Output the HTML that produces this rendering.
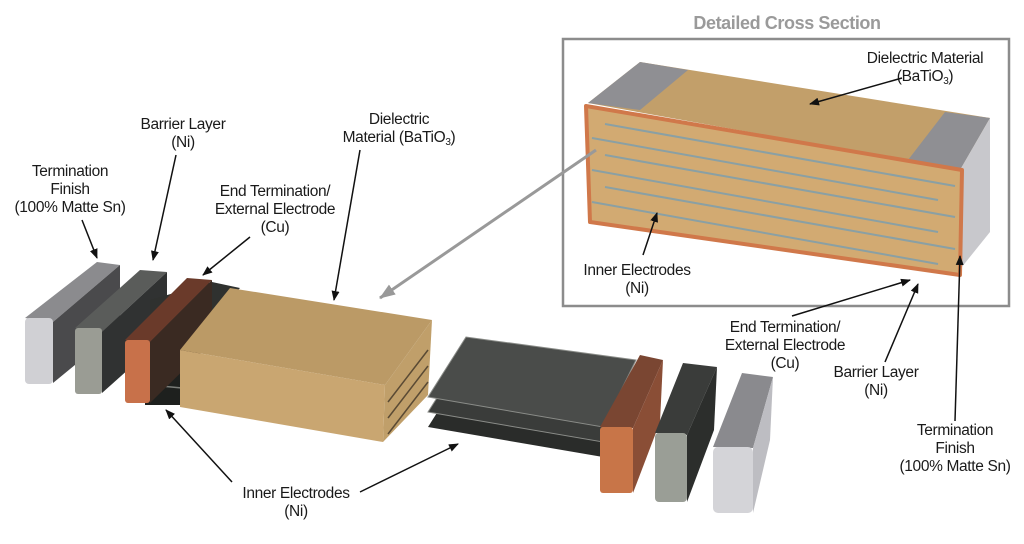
<!DOCTYPE html>
<html><head><meta charset="utf-8"><style>
html,body{margin:0;padding:0;background:#fff;}
svg{display:block}
text{font-family:"Liberation Sans Narrow","Liberation Sans",sans-serif;font-size:15.5px;fill:#1a1a1a;text-anchor:middle;letter-spacing:-0.35px}
</style></head><body>
<svg width="1024" height="544" viewBox="0 0 1024 544" xmlns="http://www.w3.org/2000/svg">
<defs>
<marker id="ah" markerWidth="10" markerHeight="8" refX="9" refY="4" orient="auto" markerUnits="userSpaceOnUse"><path d="M0,0 L10,4 L0,8 z" fill="#111"/></marker>
<marker id="ahg" markerWidth="16" markerHeight="12" refX="15" refY="6" orient="auto" markerUnits="userSpaceOnUse"><path d="M0,0 L16,6 L0,12 z" fill="#999"/></marker>
</defs>

<text x="787" y="29" style="font-weight:bold;font-size:18px;fill:#9a9a9a;letter-spacing:-0.4px">Detailed Cross Section</text>
<rect x="563" y="39" width="446" height="267" fill="#fff" stroke="#8c8c8c" stroke-width="2.5"/>
<polygon points="588,103 640,62 990,118 960,170" fill="#c29f6a"/>
<polygon points="588,103 640,62 688,70 640,110" fill="#8f8f93"/>
<polygon points="908,160 945,112 990,118 960,170" fill="#8f8f93"/>
<polygon points="960,170 990,118 990,232 957,273" fill="#c8c8cc"/>
<polygon points="586,106 962,170 960,275 590,222" fill="#d2aa72" stroke="#d0784a" stroke-width="4" stroke-linejoin="round"/>
<g stroke="#8aa0a4" stroke-width="2">
<line x1="605" y1="124" x2="955" y2="186"/>
<line x1="592" y1="138" x2="938" y2="200"/>
<line x1="605" y1="155" x2="955" y2="217"/>
<line x1="592" y1="170" x2="938" y2="232"/>
<line x1="605" y1="187" x2="955" y2="249"/>
<line x1="592" y1="202" x2="938" y2="264"/>
</g>
<text x="925" y="63">Dielectric Material</text>
<text x="925" y="81">(BaTiO<tspan font-size="10" dy="3">3</tspan><tspan dy="-3">)</tspan></text>
<line x1="902" y1="78" x2="810" y2="104" stroke="#111" stroke-width="1.5" marker-end="url(#ah)"/>
<text x="637" y="275">Inner Electrodes</text>
<text x="637" y="293">(Ni)</text>
<line x1="643" y1="255" x2="657" y2="213" stroke="#111" stroke-width="1.5" marker-end="url(#ah)"/>
<text x="785" y="332">End Termination/</text>
<text x="785" y="350">External Electrode</text>
<text x="785" y="368">(Cu)</text>
<line x1="792" y1="316" x2="910" y2="280" stroke="#111" stroke-width="1.5" marker-end="url(#ah)"/>
<text x="876" y="377">Barrier Layer</text>
<text x="876" y="395">(Ni)</text>
<line x1="885" y1="362" x2="918" y2="284" stroke="#111" stroke-width="1.5" marker-end="url(#ah)"/>
<text x="955" y="435">Termination</text>
<text x="955" y="453">Finish</text>
<text x="955" y="471">(100% Matte Sn)</text>
<line x1="955" y1="421" x2="960" y2="256" stroke="#111" stroke-width="1.5" marker-end="url(#ah)"/>

<line x1="596" y1="150" x2="380" y2="298" stroke="#999" stroke-width="3" marker-end="url(#ahg)"/>

<polygon points="25,318 97,262 120,265 53,322" fill="#8b8b8e"/>
<polygon points="53,322 120,265 120,328 53,383" fill="#4a4a4c"/>
<rect x="25" y="318" width="28" height="66" rx="4" fill="#d0d0d4"/>
<polygon points="75,328 140,270 167,272 102,332" fill="#5a5c5a"/>
<polygon points="102,332 167,272 167,335 102,393" fill="#303232"/>
<rect x="75" y="328" width="27" height="66" rx="3" fill="#9a9c94"/>
<polygon points="150,300 212,282 240,288 180,350 150,345" fill="#2f312f"/>
<rect x="145" y="345" width="40" height="60" fill="#1e201e"/>
<line x1="150" y1="363" x2="182" y2="366" stroke="#7a7c78" stroke-width="1.5"/>
<line x1="150" y1="385" x2="182" y2="388" stroke="#7a7c78" stroke-width="1.5"/>
<polygon points="125,340 187,278 212,280 150,342" fill="#6a3a2a"/>
<polygon points="150,342 212,280 212,342 150,403" fill="#3a2a22"/>
<rect x="125" y="340" width="25" height="63" rx="3" fill="#c8714a"/>
<polygon points="180,350 230,288 432,320 385,385" fill="#bb9a66"/>
<polygon points="385,385 432,320 428,395 383,442" fill="#c09f6a"/>
<polygon points="180,350 385,385 383,442 180,407" fill="#c9a671"/>
<g stroke="#5a4a34" stroke-width="1.5">
<line x1="388" y1="402" x2="428" y2="350"/>
<line x1="388" y1="418" x2="428" y2="366"/>
<line x1="388" y1="434" x2="428" y2="382"/>
</g>
<text x="70" y="176">Termination</text>
<text x="70" y="194">Finish</text>
<text x="70" y="212">(100% Matte Sn)</text>
<line x1="82" y1="220" x2="97" y2="258" stroke="#111" stroke-width="1.5" marker-end="url(#ah)"/>
<text x="183" y="129">Barrier Layer</text>
<text x="183" y="147">(Ni)</text>
<line x1="176" y1="155" x2="153" y2="260" stroke="#111" stroke-width="1.5" marker-end="url(#ah)"/>
<text x="275" y="196">End Termination/</text>
<text x="275" y="214">External Electrode</text>
<text x="275" y="232">(Cu)</text>
<line x1="250" y1="237" x2="203" y2="275" stroke="#111" stroke-width="1.5" marker-end="url(#ah)"/>
<text x="399" y="124">Dielectric</text>
<text x="399" y="142">Material (BaTiO<tspan font-size="10" dy="3">3</tspan><tspan dy="-3">)</tspan></text>
<line x1="360" y1="150" x2="334" y2="300" stroke="#111" stroke-width="1.5" marker-end="url(#ah)"/>
<text x="296" y="498">Inner Electrodes</text>
<text x="296" y="516">(Ni)</text>
<line x1="232" y1="482" x2="166" y2="410" stroke="#111" stroke-width="1.5" marker-end="url(#ah)"/>
<line x1="360" y1="492" x2="458" y2="444" stroke="#111" stroke-width="1.5" marker-end="url(#ah)"/>

<polygon points="428,427 466,367 636,390 603,457" fill="#2a2c2a"/>
<polygon points="428,412 466,352 636,375 603,442" fill="#3a3c3a" stroke="#8a8c88" stroke-width="1"/>
<polygon points="428,397 466,337 636,360 603,427" fill="#4a4c4a" stroke="#8a8c88" stroke-width="1"/>
<polygon points="600,427 640,355 663,360 633,428" fill="#7a4632"/>
<polygon points="633,428 663,360 660,422 633,493" fill="#8a4e36"/>
<rect x="600" y="427" width="33" height="66" rx="3" fill="#c87548"/>
<polygon points="655,433 683,363 717,367 687,435" fill="#3a3c3a"/>
<polygon points="687,435 717,367 714,430 687,502" fill="#2c2e2c"/>
<rect x="655" y="433" width="32" height="69" rx="4" fill="#9a9e96"/>
<polygon points="713,447 742,373 773,377 753,448" fill="#8a8a8e"/>
<polygon points="753,448 773,377 770,440 753,513" fill="#bdbdc2"/>
<rect x="713" y="447" width="40" height="66" rx="5" fill="#d4d4d8"/>
</svg>
</body></html>
